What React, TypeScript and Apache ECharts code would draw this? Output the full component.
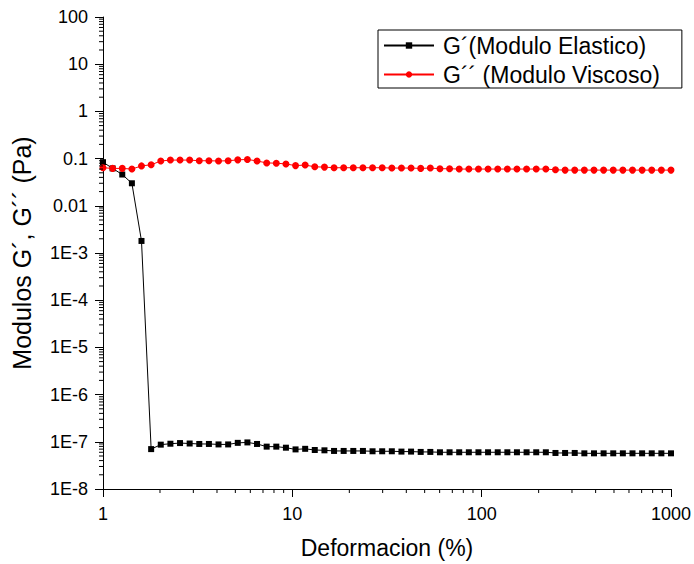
import React, { useEffect, useRef } from "react";
import * as echarts from "echarts";

const strain = [
  1, 1.124, 1.264, 1.421, 1.597, 1.796, 2.019, 2.27, 2.552, 2.869,
  3.225, 3.626, 4.076, 4.582, 5.151, 5.791, 6.511, 7.32, 8.229, 9.251,
  10.4, 11.69, 13.14, 14.78, 16.61, 18.67, 20.99, 23.6, 26.53, 29.83,
  33.54, 37.7, 42.38, 47.65, 53.57, 60.22, 67.7, 76.11, 85.57, 96.19,
  108.1, 121.6, 136.7, 153.6, 172.7, 194.2, 218.3, 245.4, 275.9, 310.2,
  348.7, 392, 440.7, 495.5, 557, 626.2, 704, 791.4, 889.7, 1000,
];

// G' (elastic modulus, Pa)
const gPrime = [
  0.084, 0.062, 0.046, 0.03, 1.8e-3, 7.0e-8, 8.7e-8, 9.1e-8, 9.4e-8, 9.2e-8,
  9.0e-8, 9.0e-8, 8.8e-8, 8.8e-8, 9.5e-8, 9.7e-8, 9.0e-8, 7.9e-8, 7.9e-8, 7.5e-8,
  6.9e-8, 7.1e-8, 6.7e-8, 6.6e-8, 6.4e-8, 6.4e-8, 6.4e-8, 6.4e-8, 6.3e-8, 6.3e-8,
  6.3e-8, 6.2e-8, 6.2e-8, 6.1e-8, 6.1e-8, 6.0e-8, 6.0e-8, 6.0e-8, 6.0e-8, 6.0e-8,
  6.0e-8, 6.0e-8, 6.0e-8, 6.0e-8, 6.0e-8, 6.0e-8, 6.0e-8, 5.8e-8, 5.8e-8, 5.8e-8,
  5.7e-8, 5.7e-8, 5.7e-8, 5.7e-8, 5.7e-8, 5.7e-8, 5.7e-8, 5.7e-8, 5.7e-8, 5.7e-8,
];

// G'' (viscous modulus, Pa)
const gDoublePrime = [
  0.064, 0.062, 0.062, 0.06, 0.07, 0.074, 0.089, 0.093, 0.093, 0.093,
  0.09, 0.09, 0.089, 0.09, 0.094, 0.096, 0.089, 0.081, 0.08, 0.077,
  0.071, 0.073, 0.067, 0.066, 0.064, 0.064, 0.064, 0.064, 0.064, 0.064,
  0.063, 0.063, 0.063, 0.062, 0.063, 0.061, 0.061, 0.06, 0.06, 0.06,
  0.06, 0.06, 0.06, 0.06, 0.06, 0.06, 0.06, 0.058, 0.057, 0.057,
  0.057, 0.057, 0.057, 0.057, 0.057, 0.057, 0.057, 0.057, 0.057, 0.057,
];

const seriesNames = ["G´(Modulo Elastico)", "G´´ (Modulo Viscoso)"];
const xAxisTitle = "Deformacion (%)";
const yAxisTitle = "Modulos G´, G´´ (Pa)";

const xTickExponents = [0, 1, 2, 3];
const xTickLabels = ["1", "10", "100", "1000"];
const yTickExponents = [-8, -7, -6, -5, -4, -3, -2, -1, 0, 1, 2];
const yTickLabels = ["1E-8", "1E-7", "1E-6", "1E-5", "1E-4", "1E-3", "0.01", "0.1", "1", "10", "100"];
const minorMultipliers = [2, 3, 4, 5, 6, 7, 8, 9];

const X_MIN = 1;
const X_MAX = 1000;
const Y_MIN = 1e-8;
const Y_MAX = 100;

const FONT = "'Liberation Sans', Arial, Helvetica, sans-serif";
const MAJOR_LEN = 8;
const MINOR_LEN = 4;

function labelFor(exps: number[], labels: string[]) {
  return (v: number) => {
    const e = Math.round(Math.log10(v));
    const i = exps.indexOf(e);
    return i >= 0 && Math.abs(Math.log10(v) - e) < 1e-6 ? labels[i] : "";
  };
}

export default function App() {
  const ref = useRef<HTMLDivElement>(null);

  useEffect(() => {
    if (!ref.current) return;
    const chart = echarts.init(ref.current, undefined, { renderer: "svg" });

    const xMinor: number[] = [];
    xTickExponents.slice(0, -1).forEach((e) =>
      minorMultipliers.forEach((m) => xMinor.push(m * Math.pow(10, e)))
    );
    const yMinor: number[] = [];
    yTickExponents.slice(0, -1).forEach((e) =>
      minorMultipliers.forEach((m) => yMinor.push(m * Math.pow(10, e)))
    );

    const option: any = {
      animation: false,
      backgroundColor: "#ffffff",
      textStyle: { fontFamily: FONT, color: "#000" },
      grid: { left: 103, right: 21, top: 17, bottom: 71, containLabel: false },
      legend: {
        data: seriesNames,
        orient: "vertical",
        left: 378,
        top: 30,
        padding: [4, 22, 2, 5],
        itemGap: 6,
        itemWidth: 50,
        itemHeight: 8,
        borderColor: "#000",
        borderWidth: 1,
        borderRadius: 0,
        backgroundColor: "#fff",
        textStyle: { fontFamily: FONT, fontSize: 23, color: "#000", padding: [0, 0, 0, 4] },
      },
      xAxis: {
        type: "log",
        logBase: 10,
        min: X_MIN,
        max: X_MAX,
        splitNumber: 3,
        interval: 1,
        name: xAxisTitle,
        nameLocation: "middle",
        nameGap: 47,
        nameMoveOverlap: false,
        nameTextStyle: { fontFamily: FONT, fontSize: 23, color: "#000" },
        axisLine: { show: true, onZero: false, lineStyle: { color: "#000", width: 1 } },
        axisTick: { show: true, inside: false, length: MAJOR_LEN, lineStyle: { color: "#000", width: 1 } },
        axisLabel: {
          show: true,
          margin: 16,
          fontFamily: FONT,
          fontSize: 18,
          color: "#000",
          formatter: labelFor(xTickExponents, xTickLabels),
        },
        splitLine: { show: false },
        minorTick: { show: false },
      },
      yAxis: {
        type: "log",
        logBase: 10,
        min: Y_MIN,
        max: Y_MAX,
        splitNumber: 10,
        interval: 1,
        name: yAxisTitle,
        nameLocation: "middle",
        nameGap: 69,
        nameRotate: 90,
        nameMoveOverlap: false,
        nameTextStyle: { fontFamily: FONT, fontSize: 25, color: "#000" },
        axisLine: { show: true, onZero: false, lineStyle: { color: "#000", width: 1 } },
        axisTick: { show: true, inside: false, length: MAJOR_LEN, lineStyle: { color: "#000", width: 1 } },
        axisLabel: {
          show: true,
          margin: 15,
          fontFamily: FONT,
          fontSize: 18,
          color: "#000",
          formatter: labelFor(yTickExponents, yTickLabels),
        },
        splitLine: { show: false },
        minorTick: { show: false },
      },
      series: [
        {
          name: seriesNames[0],
          type: "line",
          data: strain.map((x, i) => [x, gPrime[i]]),
          symbol: "rect",
          symbolSize: 6,
          lineStyle: { color: "#000", width: 1 },
          itemStyle: { color: "#000" },
          z: 3,
        },
        {
          name: seriesNames[1],
          type: "line",
          data: strain.map((x, i) => [x, gDoublePrime[i]]),
          symbol: "circle",
          symbolSize: 7,
          lineStyle: { color: "#ff0000", width: 1 },
          itemStyle: { color: "#ff0000" },
          z: 4,
        },
        {
          type: "custom",
          coordinateSystem: "cartesian2d",
          silent: true,
          clip: false,
          z: 5,
          encode: { x: 0, y: 1 },
          data: xMinor.map((v) => [v, Y_MIN]),
          renderItem: (_p: any, api: any) => {
            const pt = api.coord([api.value(0), api.value(1)]);
            return {
              type: "line",
              shape: { x1: pt[0], y1: pt[1], x2: pt[0], y2: pt[1] + MINOR_LEN },
              style: { stroke: "#000", lineWidth: 1 },
            };
          },
        },
        {
          type: "custom",
          coordinateSystem: "cartesian2d",
          silent: true,
          clip: false,
          z: 5,
          encode: { x: 0, y: 1 },
          data: yMinor.map((v) => [X_MIN, v]),
          renderItem: (_p: any, api: any) => {
            const pt = api.coord([api.value(0), api.value(1)]);
            return {
              type: "line",
              shape: { x1: pt[0] - MINOR_LEN, y1: pt[1], x2: pt[0], y2: pt[1] },
              style: { stroke: "#000", lineWidth: 1 },
            };
          },
        },
      ],
    };

    chart.setOption(option);
    return () => chart.dispose();
  }, []);

  return (
    <div
      ref={ref}
      style={{ position: "fixed", left: 0, top: 0, width: 694, height: 564, background: "#fff" }}
    />
  );
}
